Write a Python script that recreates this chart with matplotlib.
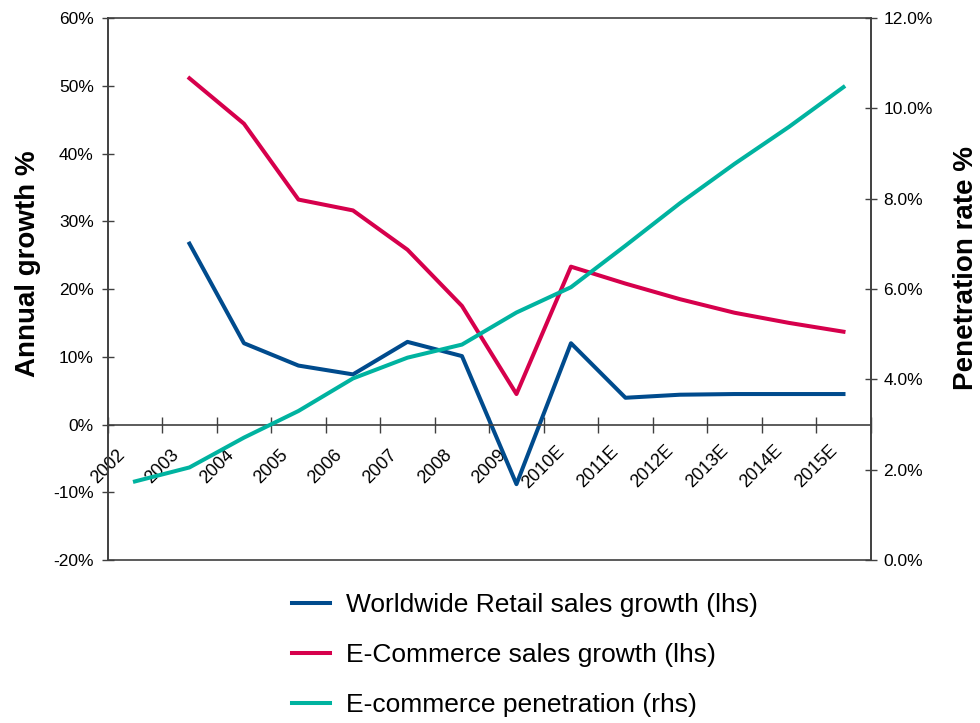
import numpy as np
import matplotlib
matplotlib.use("Agg")
import matplotlib.pyplot as plt
from matplotlib.ticker import FuncFormatter

plt.rcParams["font.family"] = ["Liberation Sans", "DejaVu Sans"]

# 数据：年份与三条序列
years = ["2002", "2003", "2004", "2005", "2006", "2007", "2008", "2009",
         "2010E", "2011E", "2012E", "2013E", "2014E", "2015E"]
retail_growth = [np.nan, 26.7, 12.0, 8.7, 7.4, 12.2, 10.1, -8.8,
                 12.0, 3.95, 4.4, 4.5, 4.5, 4.5]
ecom_growth = [np.nan, 51.1, 44.4, 33.2, 31.6, 25.8, 17.5, 4.5,
               23.3, 20.8, 18.5, 16.5, 15.0, 13.7]
ecom_penetration = [1.74, 2.05, 2.71, 3.30, 4.02, 4.48, 4.77, 5.48,
                    6.04, 6.96, 7.90, 8.77, 9.59, 10.47]

BLUE = "#004B8D"
RED = "#D6004C"
TEAL = "#00B3A0"
AXIS = "#404040"

fig = plt.figure(figsize=(9.8, 7.23), dpi=100)
ax = fig.add_axes([0.1099, 0.2254, 0.7786, 0.7497])
ax2 = ax.twinx()

x = np.arange(len(years))
(l1,) = ax.plot(x, retail_growth, color=BLUE, lw=2.9,
                label="Worldwide Retail sales growth (lhs)")
(l2,) = ax.plot(x, ecom_growth, color=RED, lw=2.9,
                label="E-Commerce sales growth (lhs)")
(l3,) = ax2.plot(x, ecom_penetration, color=TEAL, lw=2.9,
                 label="E-commerce penetration (rhs)")

# 左轴
ax.set_xlim(-0.5, len(years) - 0.5)
ax.set_ylim(-20, 60)
ax.set_yticks(np.arange(-20, 61, 10))
ax.yaxis.set_major_formatter(FuncFormatter(lambda v, _: f"{v:.0f}%"))
ax.tick_params(axis="y", direction="inout", length=8, width=1,
               color=AXIS, labelsize=12.5, pad=6)

# 右轴
ax2.set_ylim(0, 12)
ax2.set_yticks(np.arange(0, 12.1, 2))
ax2.yaxis.set_major_formatter(FuncFormatter(lambda v, _: f"{v:.1f}%"))
ax2.tick_params(axis="y", direction="inout", length=8, width=1,
                color=AXIS, labelsize=12.5, pad=5)

# x 轴放在 0% 处，刻度在类别分界处
ax.spines["bottom"].set_position(("data", 0))
ax.set_xticks(np.arange(len(years) + 1) - 0.5, labels=years + [""])
ax.tick_params(axis="x", direction="inout", length=11, width=1,
               color=AXIS, labelsize=13, pad=25)
for lab in ax.get_xticklabels():
    lab.set_rotation(45)
    lab.set_ha("center")
    lab.set_va("center")

for sp in list(ax.spines.values()) + list(ax2.spines.values()):
    sp.set_color(AXIS)
    sp.set_linewidth(1.2)
ax.spines["top"].set_visible(False)

ax.set_ylabel("Annual growth %", fontsize=20, fontweight="bold")
ax.yaxis.set_label_coords(-0.087, 0.546)
ax2.set_ylabel("Penetration rate %", fontsize=20, fontweight="bold")
ax2.yaxis.set_label_coords(1.108, 0.539)

fig.legend(handles=[l1, l2, l3], loc="upper left",
           bbox_to_anchor=(0.298, 0.18), frameon=False, fontsize=19,
           handlelength=1.45, handletextpad=0.6, labelspacing=0.99,
           borderpad=0, borderaxespad=0)

fig.savefig("out.png", dpi=100)
